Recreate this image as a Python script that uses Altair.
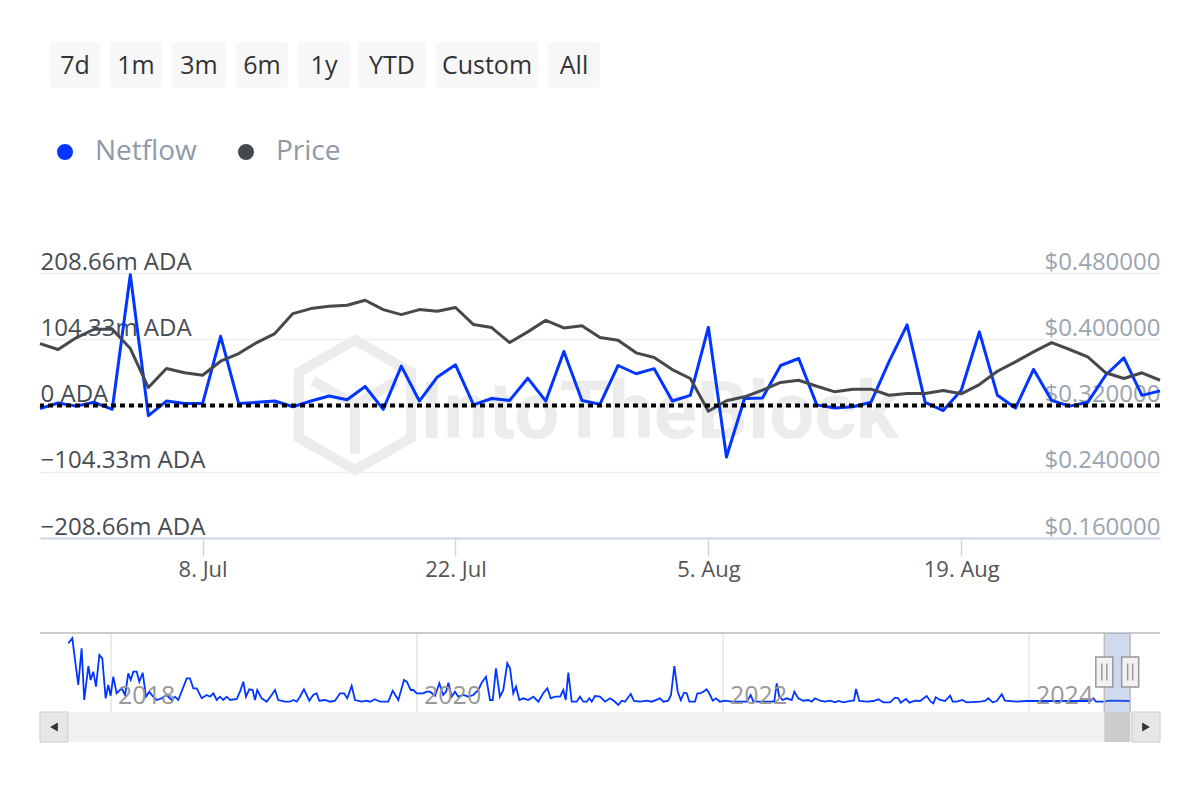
import altair as alt
import pandas as pd

# ---------------- data ----------------
start_date, end_date = "2024-06-29", "2024-08-30"
dates = pd.date_range(start_date, end_date, freq="D").strftime("%Y-%m-%dT%H:%M:%S").tolist()

netflow_m = [-5, 4, -1, 5, -6, 206, -16, 7, 3, 3, 109, 3, 5, 7, -2, 7, 15, 9, 30, -6,
             62, 7, 45, 64, 1, 11, 8, 43, 7, 85, 8, 2, 63, 50, 58, 7, 16, 123, -81, 11,
             12, 63, 74, 1, -4, -2, 5, 69, 127, 5, -8, 24, 116, 16, -4, 57, 8, -1, 5, 48,
             75, 16, 23]

price_usd = [0.3948, 0.3876, 0.4017, 0.4121, 0.4121, 0.3888, 0.3417, 0.3646, 0.3595, 0.3566,
             0.3735, 0.3827, 0.3960, 0.4069, 0.4310, 0.4370, 0.4398, 0.4410, 0.4471, 0.4358,
             0.4298, 0.4358, 0.4338, 0.4383, 0.4177, 0.4141, 0.3960, 0.4089, 0.4229, 0.4137,
             0.4162, 0.4020, 0.3988, 0.3836, 0.3779, 0.3634, 0.3526, 0.3131, 0.3257, 0.3305,
             0.3385, 0.3478, 0.3505, 0.3433, 0.3365, 0.3397, 0.3397, 0.3324, 0.3345, 0.3345,
             0.3381, 0.3341, 0.3453, 0.3614, 0.3727, 0.3848, 0.3960, 0.3876, 0.3788, 0.3595,
             0.3526, 0.3595, 0.3505]

# navigator: (decimal year, netflow) read from the overview strip
nav_points = [
    (2017.721, 587), (2017.747, 637), (2017.786, 170), (2017.808, 537), (2017.825, 20),
    (2017.852, 360), (2017.867, 220), (2017.884, 303), (2017.902, 153), (2017.924, 470),
    (2017.943, 437), (2017.965, 37), (2017.982, 170), (2017.998, 63), (2018.015, 253),
    (2018.037, 87), (2018.070, 137), (2018.092, 70), (2018.113, 287), (2018.129, 220),
    (2018.146, 303), (2018.168, 303), (2018.185, 203), (2018.207, 293), (2018.229, 53),
    (2018.250, 103), (2018.276, 53), (2018.299, 20), (2018.331, 37), (2018.364, 70),
    (2018.397, 20), (2018.418, 53), (2018.440, 20), (2018.495, 237), (2018.516, 237),
    (2018.538, 137), (2018.560, 137), (2018.593, 37), (2018.625, 70), (2018.647, 53),
    (2018.669, 87), (2018.691, 20), (2018.712, 53), (2018.734, 20), (2018.756, 53),
    (2018.778, 20), (2018.822, 30), (2018.843, 103), (2018.865, 203), (2018.882, 53),
    (2018.904, 127), (2018.926, 120), (2018.941, 20), (2018.956, 120), (2018.985, 37),
    (2019.018, 3), (2019.050, 70), (2019.072, 120), (2019.093, 20), (2019.137, 3),
    (2019.170, 3), (2019.192, 20), (2019.214, 3), (2019.235, 53), (2019.261, 127),
    (2019.296, 13), (2019.322, 70), (2019.344, 87), (2019.361, 13), (2019.399, 20),
    (2019.431, 3), (2019.464, 13), (2019.497, 87), (2019.523, 87), (2019.544, 37),
    (2019.573, 160), (2019.595, 20), (2019.639, 3), (2019.671, 13), (2019.693, 3),
    (2019.725, 27), (2019.758, 3), (2019.812, 3), (2019.841, 113), (2019.878, 20),
    (2019.915, 220), (2019.933, 203), (2019.959, 120), (2019.976, 120), (2019.998, 87),
    (2020.041, 87), (2020.063, 103), (2020.085, 103), (2020.118, 63), (2020.146, 187),
    (2020.172, 70), (2020.190, 103), (2020.205, 193), (2020.227, 53), (2020.248, 103),
    (2020.270, 53), (2020.303, 70), (2020.335, 53), (2020.368, 70), (2020.401, 120),
    (2020.423, 193), (2020.451, 253), (2020.477, 20), (2020.495, 20), (2020.516, 337),
    (2020.542, 53), (2020.564, 120), (2020.590, 387), (2020.608, 337), (2020.629, 87),
    (2020.647, 153), (2020.669, 20), (2020.695, 37), (2020.727, 20), (2020.760, 53),
    (2020.793, 3), (2020.825, 87), (2020.852, 137), (2020.874, 37), (2020.902, 53),
    (2020.935, 53), (2020.956, 120), (2020.972, 20), (2020.989, 293), (2021.011, 3),
    (2021.044, 3), (2021.065, 53), (2021.087, 3), (2021.109, 3), (2021.126, 37),
    (2021.142, 3), (2021.163, 60), (2021.196, 53), (2021.229, 3), (2021.261, 37),
    (2021.288, 10), (2021.316, -30), (2021.338, 13), (2021.359, 3), (2021.397, 80),
    (2021.418, 10), (2021.458, 3), (2021.501, 13), (2021.534, 3), (2021.588, 37),
    (2021.610, 3), (2021.642, 13), (2021.660, 70), (2021.682, 360), (2021.704, 103),
    (2021.724, 20), (2021.745, 93), (2021.763, 87), (2021.780, 3), (2021.817, 3),
    (2021.832, 87), (2021.850, 87), (2021.871, 103), (2021.893, 127), (2021.910, 87),
    (2021.933, 13), (2021.954, 37), (2021.980, 3), (2022.013, 13), (2022.057, 3),
    (2022.133, 3), (2022.155, 3), (2022.181, 70), (2022.198, 3), (2022.231, 3),
    (2022.307, 3), (2022.335, 3), (2022.351, 187), (2022.368, 53), (2022.390, 20),
    (2022.416, 37), (2022.449, 20), (2022.466, 103), (2022.492, 37), (2022.525, 13),
    (2022.558, 20), (2022.580, 3), (2022.601, 37), (2022.634, 13), (2022.667, 3),
    (2022.699, 13), (2022.732, -3), (2022.754, 10), (2022.786, -3), (2022.841, 13),
    (2022.856, 13), (2022.869, 130), (2022.891, 10), (2022.939, 3), (2022.982, 10),
    (2023.015, 27), (2023.048, -3), (2023.092, -3), (2023.124, 43), (2023.146, 37),
    (2023.161, -7), (2023.196, 30), (2023.218, -7), (2023.255, 13), (2023.288, 10),
    (2023.331, 60), (2023.358, 3), (2023.375, -13), (2023.390, 47), (2023.418, 20),
    (2023.451, 10), (2023.484, 63), (2023.501, 3), (2023.527, 3), (2023.564, 20),
    (2023.593, -3), (2023.680, 3), (2023.712, 10), (2023.734, 37), (2023.763, -3),
    (2023.789, 10), (2023.822, 77), (2023.843, 13), (2023.920, 3), (2023.985, 10),
    (2024.050, 10), (2024.105, 10), (2024.290, 10), (2024.399, 10), (2024.420, 37),
    (2024.438, 3), (2024.486, 3), (2024.529, 13), (2024.660, 10),
]

netflow_ticks = [-208.66, -104.33, 0, 104.33, 208.66]
price_ticks = [0.16, 0.24, 0.32, 0.40, 0.48]
nav_year_ticks = [2018, 2020, 2022, 2024]
series_names = ["Netflow", "Price"]
buttons = ["7d", "1m", "3m", "6m", "1y", "YTD", "Custom", "All"]
selected_range = [2024.492, 2024.661]  # 29 Jun - 30 Aug 2024 as decimal years
watermark = "IntoTheBlock"

# ---------------- styling / layout ----------------
BLUE = "#0036ff"
GREY = "#45494d"
FONT = "Open Sans"
W, H = 1120, 265
btn_x0 = [10, 70, 132, 196, 258, 318, 396, 508]
btn_x1 = [60, 122, 186, 248, 310, 386, 498, 560]

df_net = pd.DataFrame({"date": dates, "value": netflow_m, "series": "Netflow"})
df_price = pd.DataFrame({"date": dates, "value": price_usd, "series": "Price"})
df_nav = pd.DataFrame(nav_points, columns=["year", "value"])
df_years = pd.DataFrame({"year": nav_year_ticks, "label": [str(y) for y in nav_year_ticks]})
df_sel = pd.DataFrame({"start": [selected_range[0]], "end": [selected_range[1]]})
df_sel_edges = pd.DataFrame({"year": selected_range})
df_btn = pd.DataFrame({"label": buttons, "x0": btn_x0, "x1": btn_x1})
df_btn["xc"] = (df_btn["x0"] + df_btn["x1"]) / 2
df_zero = pd.DataFrame({"v": [0]})
df_wm = pd.DataFrame({"t": [watermark]})
one = pd.DataFrame({"a": [0]})

x_main = alt.Scale(domain=[alt.DateTime(year=2024, month=6, date=29),
                           alt.DateTime(year=2024, month=8, date=30)])
y_net = alt.Scale(domain=[netflow_ticks[0], netflow_ticks[-1]], nice=False, zero=False)
y_price = alt.Scale(domain=[price_ticks[0], price_ticks[-1]], nice=False, zero=False)
x_nav = alt.Scale(domain=[2017.536, 2024.856], nice=False, zero=False)
y_nav = alt.Scale(domain=[-100, 690], range=[439, 360], nice=False, zero=False)
color_scale = alt.Scale(domain=series_names, range=[BLUE, GREY])

legend = alt.Legend(title=None, orient="none", legendX=11, legendY=-135,
                    direction="horizontal", symbolType="circle", symbolSize=64,
                    symbolStrokeWidth=8, labelFontSize=28, labelFont=FONT,
                    labelColor="#8d9aa6", labelOffset=16, columnPadding=29, padding=0)

main_x_axis = alt.Axis(values=[alt.DateTime(year=2024, month=7, date=8),
                               alt.DateTime(year=2024, month=7, date=22),
                               alt.DateTime(year=2024, month=8, date=5),
                               alt.DateTime(year=2024, month=8, date=19)],
                       format="%-d. %b", title=None, grid=False,
                       domainColor="#ccd6eb", domainWidth=2, tickColor="#ccd6eb",
                       tickWidth=1.5, tickSize=18, labelFontSize=22, labelFont=FONT,
                       labelColor="#555555", labelPadding=3, labelFlush=False,
                       labelOverlap=False)

net_axis = alt.Axis(values=netflow_ticks, orient="left", title=None,
                    labelExpr="datum.value == 0 ? '0 ADA' : format(datum.value, '.2f') + 'm ADA'",
                    labelAlign="left", labelPadding=0, ticks=False, tickSize=0, domain=False,
                    grid=True, gridColor="#eeeeee", gridWidth=1.5,
                    labelBaseline="alphabetic", labelOffset=-4, labelFontSize=24,
                    labelFont=FONT, labelColor="#464c53", labelOverlap=False,
                    labelBound=False, labelFlush=False)

price_axis = alt.Axis(values=price_ticks, orient="right", title=None, format="$.6f",
                      labelAlign="right", labelPadding=0, ticks=False, tickSize=0,
                      domain=False, grid=False, labelBaseline="alphabetic",
                      labelOffset=-4, labelFontSize=24, labelFont=FONT,
                      labelColor="#9aa5b0", labelOverlap=False, labelBound=False,
                      labelFlush=False)

# ---------------- watermark ----------------
cube = ("M0,-1 L0.866,-0.5 L0.866,0.5 L0,1 L-0.866,0.5 L-0.866,-0.5 Z "
        "M0,0 L0,0.75 M0,0 L0.65,-0.375 M0,0 L-0.65,-0.375")
wm_logo = alt.Chart(one).mark_point(shape=cube, size=16900, stroke="#ececec",
                                    strokeWidth=10, filled=False, opacity=1).encode(
    x=alt.value(315), y=alt.value(132))
wm_text = alt.Chart(df_wm).mark_text(align="left", baseline="alphabetic", font="Roboto",
                                     fontWeight="bold", fontSize=80, color="#ececec").encode(
    text="t:N", x=alt.value(380), y=alt.value(165))

# ---------------- main chart ----------------
price_line = alt.Chart(df_price).mark_line(strokeWidth=3, strokeJoin="round").encode(
    x=alt.X("date:T", scale=x_main, axis=None),
    y=alt.Y("value:Q", scale=y_price, axis=price_axis),
    color=alt.Color("series:N", scale=color_scale, legend=legend))

net_line = alt.Chart(df_net).mark_line(strokeWidth=3, strokeJoin="round").encode(
    x=alt.X("date:T", scale=x_main, axis=main_x_axis),
    y=alt.Y("value:Q", scale=y_net, axis=net_axis),
    color=alt.Color("series:N", scale=color_scale, legend=legend))

zero_rule = alt.Chart(df_zero).mark_rule(color="black", strokeWidth=4,
                                         strokeDash=[5, 4]).encode(
    y=alt.Y("v:Q", scale=y_net, axis=None))

# ---------------- navigator ----------------
nav_grid = alt.Chart(df_years).mark_rule(color="#e6e6e6", strokeWidth=1.5).encode(
    x=alt.X("year:Q", scale=x_nav, axis=None), y=alt.value(360), y2=alt.value(439))
nav_line = alt.Chart(df_nav).mark_line(strokeWidth=1.8, color=BLUE).encode(
    x=alt.X("year:Q", scale=x_nav, axis=None),
    y=alt.Y("value:Q", scale=y_nav, axis=None))
nav_labels = alt.Chart(df_years).mark_text(align="left", baseline="middle", dx=7,
                                           fontSize=25, font=FONT, color="#999999",
                                           opacity=1).encode(
    x=alt.X("year:Q", scale=x_nav, axis=None), y=alt.value(423), text="label:N")
nav_outline = alt.Chart(one).mark_rule(color="#cccccc", strokeWidth=2).encode(
    x=alt.value(0), x2=alt.value(W), y=alt.value(360))
nav_mask = alt.Chart(df_sel).mark_rect(fill="#6685c2", opacity=0.3).encode(
    x=alt.X("start:Q", scale=x_nav, axis=None), x2="end:Q",
    y=alt.value(360), y2=alt.value(439))
nav_edges = alt.Chart(df_sel_edges).mark_rule(color="#bbbbbb", strokeWidth=1.5).encode(
    x=alt.X("year:Q", scale=x_nav, axis=None), y=alt.value(360), y2=alt.value(439))
handle = ("M-0.567,-1 L0.567,-1 L0.567,1 L-0.567,1 Z "
          "M-0.167,-0.57 L-0.167,0.57 M0.167,-0.57 L0.167,0.57")
nav_handles = alt.Chart(df_sel_edges).mark_point(shape=handle, size=900, fill="#f2f2f2",
                                                 stroke="#999999", strokeWidth=1.5,
                                                 filled=True, opacity=1).encode(
    x=alt.X("year:Q", scale=x_nav, axis=None), y=alt.value(399))

# scrollbar
sb_track = alt.Chart(one).mark_rect(fill="#f2f2f2").encode(
    x=alt.value(0), x2=alt.value(W), y=alt.value(439), y2=alt.value(469))
sb_thumb = alt.Chart(df_sel).mark_rect(fill="#cccccc").encode(
    x=alt.X("start:Q", scale=x_nav, axis=None), x2="end:Q",
    y=alt.value(439), y2=alt.value(469))
sb_left = alt.Chart(one).mark_rect(fill="#e6e6e6", stroke="#cccccc", strokeWidth=1).encode(
    x=alt.value(0), x2=alt.value(28), y=alt.value(439), y2=alt.value(469))
sb_right = alt.Chart(one).mark_rect(fill="#e6e6e6", stroke="#cccccc", strokeWidth=1).encode(
    x=alt.value(W - 28), x2=alt.value(W), y=alt.value(439), y2=alt.value(469))
arr_left = alt.Chart(one).mark_point(shape="triangle-left", filled=True, color="#333333",
                                     size=80, opacity=1).encode(
    x=alt.value(14), y=alt.value(454))
arr_right = alt.Chart(one).mark_point(shape="triangle-right", filled=True, color="#333333",
                                      size=80, opacity=1).encode(
    x=alt.value(W - 14), y=alt.value(454))

# ---------------- range selector buttons ----------------
btn_rect = alt.Chart(df_btn).mark_rect(fill="#f7f7f7", cornerRadius=4).encode(
    x=alt.X("x0:Q", scale=None), x2="x1:Q", y=alt.value(-231), y2=alt.value(-185))
btn_text = alt.Chart(df_btn).mark_text(fontSize=25, font=FONT, color="#333333",
                                       baseline="middle").encode(
    x=alt.X("xc:Q", scale=None), y=alt.value(-207), text="label:N")

chart = alt.layer(
    wm_logo, wm_text, net_line, price_line, zero_rule,
    nav_grid, nav_line, nav_labels, nav_outline, nav_mask, nav_edges,
    sb_track, sb_thumb, sb_left, sb_right, arr_left, arr_right, nav_handles,
    btn_rect, btn_text,
).resolve_scale(x="independent", y="independent").properties(
    width=W, height=H,
    padding={"left": 32, "top": 265, "right": 32, "bottom": 254},
    autosize=alt.AutoSizeParams(type="none"),
).configure(font=FONT, view=alt.ViewConfig(stroke=None))

chart.save("out.html", embed_options={"renderer": "svg", "actions": False})
